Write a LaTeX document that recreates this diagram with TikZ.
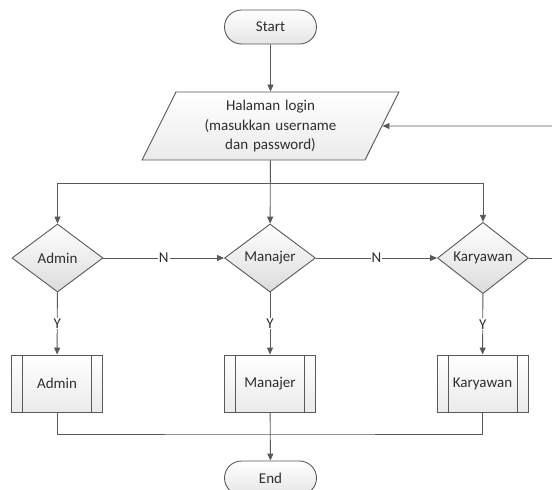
\documentclass[tikz,border=0pt]{standalone}
\usepackage{fontspec}
\setmainfont{Carlito}
\usetikzlibrary{shapes.geometric,shapes.misc,arrows.meta}
\definecolor{linegray}{HTML}{595959}
\definecolor{textgray}{HTML}{2E2E2E}

\begin{document}
\begin{tikzpicture}[x=1pt,y=-1pt,
    font=\fontsize{15}{19.5}\selectfont,
    line/.style={draw=linegray,line width=0.9pt},
    arr/.style={line,-{Triangle[length=7pt,width=6pt]}},
    terminal/.style={rounded rectangle,draw=linegray,line width=0.9pt,
      top color=white,bottom color=black!10,text=textgray,
      minimum width=92pt,minimum height=34pt,inner sep=0pt},
    inout/.style={trapezium,trapezium left angle=63.4,trapezium right angle=116.6,
      draw=linegray,line width=0.9pt,top color=white,bottom color=black!8,
      text=textgray,text width=155pt,align=center,inner xsep=4pt,
      minimum height=68pt},
    decision/.style={diamond,draw=linegray,line width=0.9pt,
      top color=white,bottom color=black!14,text=textgray,
      minimum width=91pt,minimum height=68pt,inner sep=0pt},
    process/.style={rectangle,draw=linegray,line width=0.9pt,
      top color=white,bottom color=black!8,text=textgray,
      minimum width=91pt,minimum height=57pt,
      path picture={
        \draw[linegray,line width=0.9pt]
          ([xshift=11pt]path picture bounding box.north west) --
          ([xshift=11pt]path picture bounding box.south west);
        \draw[linegray,line width=0.9pt]
          ([xshift=-11pt]path picture bounding box.north east) --
          ([xshift=-11pt]path picture bounding box.south east);}},
    yn/.style={fill=white,text=textgray,inner sep=1pt}]
  \useasboundingbox (0,0) rectangle (552,490);
  \clip (0,0) rectangle (552,490);

  \node[terminal] (start) at (270.5,27) {Start};
  \node[inout] (login) at (270.5,126) {Halaman login\\(masukkan username\\dan password)};

  \node[decision] (cekadmin) at (57.5,258) {Admin};
  \node[decision] (cekmanajer) at (270,258) {Manajer};
  \node[decision] (cekkaryawan) at (483,258) {Karyawan};

  \node[process] (admin) at (57,383.5) {Admin};
  \node[process] (manajer) at (270,383.5) {Manajer};
  \node[process] (karyawan) at (482.5,383.5) {Karyawan};

  \node[terminal] (end) at (270.5,478) {End};

  \coordinate (split) at (270,183);
  \coordinate (merge) at (270,434);
  \coordinate (balik) at (552,126);
  \coordinate (keluar) at (552,258);

  \path[arr] (start) -- (login);
  \path[arr] (login) -- (cekmanajer);
  \path[arr] (split) -| (cekadmin.north);
  \path[arr] (split) -| (cekkaryawan.north);

  \path[arr] (cekadmin) -- node[yn] {N} (cekmanajer);
  \path[arr] (cekmanajer) -- node[yn] {N} (cekkaryawan);
  \path[line] (cekkaryawan) -- (keluar);
  \path[arr] (balik) -- (login.east);

  \path[arr] (cekadmin) -- node[yn] {Y} (admin);
  \path[arr] (cekmanajer) -- node[yn] {Y} (manajer);
  \path[arr] (cekkaryawan) -- node[yn] {Y} (karyawan);

  \path[line] (admin.south) |- (merge) -| (karyawan.south);
  \path[arr] (manajer) -- (end);
\end{tikzpicture}
\end{document}
